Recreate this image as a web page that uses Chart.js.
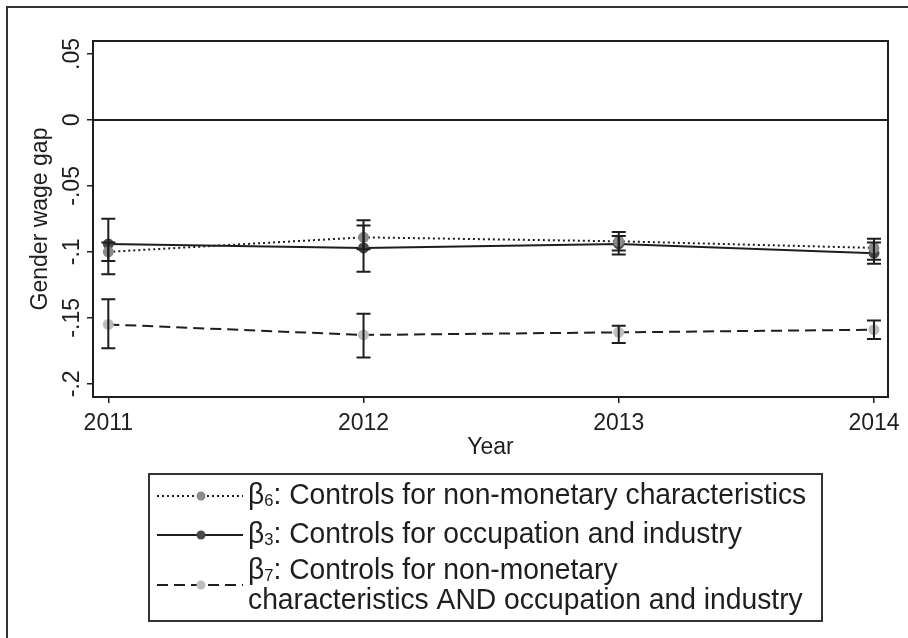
<!DOCTYPE html>
<html>
<head>
<meta charset="utf-8">
<script src="https://cdn.jsdelivr.net/npm/chart.js@4/dist/chart.umd.min.js"></script>
<style>
  html, body { margin: 0; padding: 0; background: #fff; }
  #wrap { width: 908px; height: 638px; }
</style>
</head>
<body>
<div id="wrap"><canvas id="c" width="908" height="638"></canvas></div>
<script>
// Survey years on the horizontal axis
const years = [2011, 2012, 2013, 2014];
const xTickLabels = ['2011', '2012', '2013', '2014'];

// Vertical axis ticks
const yTickValues = [-0.2, -0.15, -0.1, -0.05, 0, 0.05];
const yTickLabels = ['-.2', '-.15', '-.1', '-.05', '0', '.05'];

// beta6: controls for non-monetary characteristics
const b6 = [-0.100, -0.089, -0.092, -0.097];
const b6Lo = [-0.107, -0.098, -0.099, -0.106];
const b6Hi = [-0.093, -0.080, -0.088, -0.093];

// beta3: controls for occupation and industry
const b3 = [-0.094, -0.097, -0.094, -0.101];
const b3Lo = [-0.117, -0.115, -0.102, -0.109];
const b3Hi = [-0.075, -0.076, -0.085, -0.090];

// beta7: both sets of controls
const b7 = [-0.155, -0.163, -0.161, -0.159];
const b7Lo = [-0.173, -0.180, -0.169, -0.166];
const b7Hi = [-0.136, -0.147, -0.156, -0.152];

// Legend text: subscript of beta and the description lines
const legendSubs = ['6', '3', '7'];
const legendText = [
  [': Controls for non-monetary characteristics'],
  [': Controls for occupation and industry'],
  [': Controls for non-monetary', 'characteristics AND occupation and industry']
];

const FONT = "'Liberation Sans', Arial, sans-serif";
const INK = '#1e1e1e';

const pts = (vals) => vals.map((v, i) => ({ x: years[i], y: v }));

const series = [
  { vals: b6, lo: b6Lo, hi: b6Hi, dash: [2, 3], marker: '#8a8a8a' },
  { vals: b3, lo: b3Lo, hi: b3Hi, dash: [], marker: '#4a4a4a' },
  { vals: b7, lo: b7Lo, hi: b7Hi, dash: [11, 6], marker: '#bdbdbd' }
];

const datasets = series.map((s, i) => ({
  label: 'β' + legendSubs[i] + legendText[i].join(' '),
  data: pts(s.vals),
  borderColor: INK,
  borderWidth: 2,
  borderDash: s.dash,
  pointRadius: 5.5,
  pointBackgroundColor: s.marker,
  pointBorderColor: s.marker,
  pointBorderWidth: 0,
  tension: 0,
  fill: false
}));

// Confidence-interval caps, drawn through the chart scales
const errorBars = {
  id: 'errorBars',
  afterDatasetsDraw(chart) {
    const { ctx, scales: { x, y } } = chart;
    ctx.save();
    ctx.strokeStyle = INK;
    ctx.lineWidth = 2;
    ctx.setLineDash([]);
    series.forEach((s) => {
      years.forEach((yr, i) => {
        const px = x.getPixelForValue(yr);
        const yl = y.getPixelForValue(s.lo[i]);
        const yh = y.getPixelForValue(s.hi[i]);
        ctx.beginPath();
        ctx.moveTo(px, yl); ctx.lineTo(px, yh);
        ctx.moveTo(px - 7, yl); ctx.lineTo(px + 7, yl);
        ctx.moveTo(px - 7, yh); ctx.lineTo(px + 7, yh);
        ctx.stroke();
      });
    });
    ctx.restore();
  }
};

// Zero reference line and the plot-region box
const frame = {
  id: 'frame',
  beforeDatasetsDraw(chart) {
    const { ctx, chartArea: a, scales: { y } } = chart;
    ctx.save();
    ctx.strokeStyle = INK;
    ctx.lineWidth = 2;
    const y0 = y.getPixelForValue(0);
    ctx.beginPath();
    ctx.moveTo(a.left, y0); ctx.lineTo(a.right, y0);
    ctx.stroke();
    ctx.strokeRect(a.left, a.top, a.right - a.left, a.bottom - a.top);
    ctx.restore();
  }
};

function drawBetaLabel(ctx, x, y, sub, text, size) {
  ctx.font = size + 'px ' + FONT;
  ctx.fillText('β', x, y);
  let cx = x + ctx.measureText('β').width;
  ctx.font = Math.round(size * 0.6) + 'px ' + FONT;
  ctx.fillText(sub, cx, y + size * 0.2);
  cx += ctx.measureText(sub).width;
  ctx.font = size + 'px ' + FONT;
  ctx.fillText(text, cx, y);
}

// Axis labels, titles, outer frame and the legend box
const annotations = {
  id: 'annotations',
  afterDraw(chart) {
    const { ctx, chartArea: a, scales: { x, y } } = chart;
    ctx.save();
    ctx.fillStyle = INK;

    // outer frame (left and top edges visible)
    ctx.strokeStyle = '#333';
    ctx.lineWidth = 2;
    ctx.strokeRect(7, 7, 960, 700);

    // y tick labels, rotated
    ctx.font = '23px ' + FONT;
    ctx.textAlign = 'center';
    ctx.textBaseline = 'middle';
    yTickValues.forEach((v, i) => {
      const py = y.getPixelForValue(v);
      ctx.save();
      ctx.translate(73, py);
      ctx.rotate(-Math.PI / 2);
      ctx.fillText(yTickLabels[i], 0, 0);
      ctx.restore();
    });

    // y title
    ctx.save();
    ctx.translate(41, (a.top + a.bottom) / 2);
    ctx.rotate(-Math.PI / 2);
    ctx.fillText('Gender wage gap', 0, 0);
    ctx.restore();

    // x tick labels and title
    years.forEach((yr, i) => {
      ctx.fillText(xTickLabels[i], x.getPixelForValue(yr), 424);
    });
    ctx.fillText('Year', (a.left + a.right) / 2, 448);

    // legend
    const box = { l: 149, t: 474, r: 822, b: 621 };
    ctx.strokeStyle = '#333';
    ctx.lineWidth = 2;
    ctx.strokeRect(box.l, box.t, box.r - box.l, box.b - box.t);

    const rows = [
      { sample: 496, lines: [496] },
      { sample: 535, lines: [535] },
      { sample: 585, lines: [571, 601] }
    ];
    const size = 29;
    ctx.textAlign = 'left';
    ctx.textBaseline = 'middle';
    rows.forEach((r, i) => {
      const ds = datasets[i];
      ctx.save();
      ctx.strokeStyle = INK;
      ctx.lineWidth = 2;
      ctx.setLineDash(ds.borderDash);
      ctx.beginPath();
      ctx.moveTo(157, r.sample); ctx.lineTo(243, r.sample);
      ctx.stroke();
      ctx.setLineDash([]);
      ctx.fillStyle = ds.pointBackgroundColor;
      ctx.beginPath();
      ctx.arc(201, r.sample, 4.5, 0, Math.PI * 2);
      ctx.fill();
      ctx.restore();

      const lines = legendText[i];
      ctx.save();
      ctx.translate(248, 0);
      ctx.scale(0.975, 1);
      drawBetaLabel(ctx, 0, r.lines[0], legendSubs[i], lines[0], size);
      for (let k = 1; k < lines.length; k++) {
        ctx.font = size + 'px ' + FONT;
        ctx.fillText(lines[k], 0, r.lines[k]);
      }
      ctx.restore();
    });
    ctx.restore();
  }
};

new Chart(document.getElementById('c'), {
  type: 'line',
  data: { datasets },
  options: {
    responsive: false,
    animation: false,
    layout: { padding: { left: 0, top: 41, right: 20, bottom: 0 } },
    plugins: { legend: { display: false }, tooltip: { enabled: false } },
    scales: {
      x: {
        type: 'linear',
        min: 2010.94,
        max: 2014.055,
        afterBuildTicks: (s) => { s.ticks = years.map((v) => ({ value: v })); },
        afterFit: (s) => { s.height = 241; },
        ticks: { display: false },
        grid: { drawOnChartArea: false, drawTicks: true, tickLength: 6, color: INK, lineWidth: 1.5 },
        border: { display: false }
      },
      y: {
        type: 'linear',
        min: -0.21,
        max: 0.0598,
        afterBuildTicks: (s) => { s.ticks = yTickValues.map((v) => ({ value: v })); },
        afterFit: (s) => { s.width = 93; },
        ticks: { display: false },
        grid: { drawOnChartArea: false, drawTicks: true, tickLength: 6, color: INK, lineWidth: 1.5 },
        border: { display: false }
      }
    }
  },
  plugins: [frame, errorBars, annotations]
});
</script>
</body>
</html>
